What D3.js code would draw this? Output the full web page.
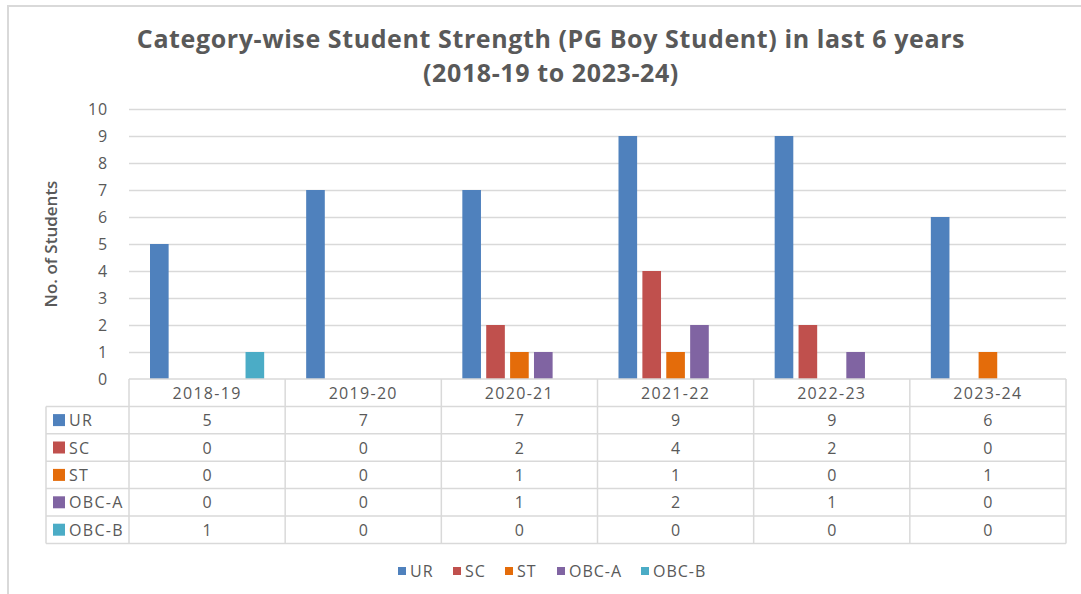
<!DOCTYPE html>
<html>
<head>
<meta charset="utf-8">
<script src="https://cdn.jsdelivr.net/npm/d3@7"></script>
<style>
html,body{margin:0;padding:0;background:#fff;}
svg{display:block;}
text{font-family:"Open Sans","Liberation Sans",sans-serif;fill:#595959;}
</style>
</head>
<body>
<svg id="chart" width="1081" height="594"></svg>
<script>
const years = ["2018-19","2019-20","2020-21","2021-22","2022-23","2023-24"];
const seriesNames = ["UR","SC","ST","OBC-A","OBC-B"];
const UR    = [5,7,7,9,9,6];
const SC    = [0,0,2,4,2,0];
const ST    = [0,0,1,1,0,1];
const OBC_A = [0,0,1,2,1,0];
const OBC_B = [1,0,0,0,0,0];
const yTicks = [0,1,2,3,4,5,6,7,8,9,10];
const colors = ["#4F81BD","#C0504D","#E46C0A","#8064A2","#4BACC6"];
const seriesValues = [UR,SC,ST,OBC_A,OBC_B];

const svg = d3.select("#chart");
const W = 1081, H = 594;
const plot = {left:129, right:1066, top:109, bottom:379};

// frame
svg.append("rect").attr("x",8).attr("y",6).attr("width",W+10).attr("height",H+10)
  .attr("fill","none").attr("stroke","#D9D9D9").attr("stroke-width",2);

// title
const title = svg.append("text").attr("text-anchor","middle")
  .attr("font-size",25).attr("font-weight","bold").attr("letter-spacing",0.6);
title.append("tspan").attr("x",551).attr("y",48).text("Category-wise Student Strength (PG Boy Student) in last 6 years");
title.append("tspan").attr("x",551).attr("y",82).text("(2018-19 to 2023-24)");

const x0 = d3.scaleBand().domain(years).range([plot.left, plot.right]).padding(0);
const x1 = d3.scaleBand().domain(seriesNames)
  .range([21, x0.bandwidth()-21]).paddingInner(0.22).paddingOuter(0);
const y = d3.scaleLinear().domain([0,10]).range([plot.bottom, plot.top]);

// gridlines
svg.append("g").selectAll("line").data(yTicks.filter(d=>d>0)).join("line")
  .attr("x1",plot.left).attr("x2",plot.right)
  .attr("y1",d=>y(d)+0.5).attr("y2",d=>y(d)+0.5)
  .attr("stroke","#D9D9D9").attr("stroke-width",1.5);

// y axis labels
const yAxis = d3.axisLeft(y).tickValues(yTicks).tickSize(0).tickPadding(0);
const gy = svg.append("g").attr("transform",`translate(${plot.left-21},0)`).call(yAxis);
gy.select(".domain").remove();
gy.selectAll("text").attr("font-size",16).attr("fill","#595959").attr("letter-spacing",0.8)
  .style("font-family",'"Open Sans","Liberation Sans",sans-serif');

// y axis title
svg.append("text").attr("transform","translate(57,244) rotate(-90)")
  .attr("text-anchor","middle").attr("font-size",17).attr("font-weight",600)
  .text("No. of Students");

// bars
const groups = svg.append("g").selectAll("g").data(years).join("g")
  .attr("transform",d=>`translate(${x0(d)},0)`);
groups.selectAll("rect").data((d,i)=>seriesNames.map((s,j)=>({s, v:seriesValues[j][i], c:colors[j]})))
  .join("rect")
  .attr("x",d=>x1(d.s)).attr("width",x1.bandwidth())
  .attr("y",d=>y(d.v)).attr("height",d=>y(0)-y(d.v))
  .attr("fill",d=>d.c);

// data table
const rowH = 27.4;
const tableTop = plot.bottom;
const tableLeft = 46;
const tg = svg.append("g");
const lineColor = "#D9D9D9";
const FS = 16, LS = 1.3;
// header row
years.forEach((yr)=>{
  tg.append("text").attr("x",x0(yr)+x0.bandwidth()/2).attr("y",tableTop+rowH/2+6)
    .attr("text-anchor","middle").attr("font-size",FS).attr("letter-spacing",LS).text(yr);
});
seriesNames.forEach((s,j)=>{
  const ry = tableTop + rowH*(j+1);
  tg.append("rect").attr("x",53).attr("y",ry+rowH/2-6).attr("width",12).attr("height",12).attr("fill",colors[j]);
  tg.append("text").attr("x",69).attr("y",ry+rowH/2+6).attr("font-size",FS).attr("letter-spacing",LS).text(s);
  years.forEach((yr,i)=>{
    tg.append("text").attr("x",x0(yr)+x0.bandwidth()/2).attr("y",ry+rowH/2+6)
      .attr("text-anchor","middle").attr("font-size",FS).text(seriesValues[j][i]);
  });
});
// horizontal lines
const hl = [];
for(let k=0;k<=6;k++) hl.push(k);
tg.selectAll("line.h").data(hl).join("line").attr("class","h")
  .attr("x1",d=>d===0?plot.left:tableLeft).attr("x2",plot.right)
  .attr("y1",d=>tableTop+rowH*d).attr("y2",d=>tableTop+rowH*d)
  .attr("stroke",lineColor).attr("stroke-width",1.5);
// vertical lines
const vx = years.map(yr=>x0(yr)).concat([plot.right]);
tg.selectAll("line.v").data(vx).join("line").attr("class","v")
  .attr("x1",d=>d).attr("x2",d=>d)
  .attr("y1",tableTop).attr("y2",tableTop+rowH*6)
  .attr("stroke",lineColor).attr("stroke-width",1.5);
tg.append("line").attr("x1",tableLeft).attr("x2",tableLeft)
  .attr("y1",tableTop+rowH).attr("y2",tableTop+rowH*6)
  .attr("stroke",lineColor).attr("stroke-width",1.5);

// bottom legend
const legendX = [398,453,505,557,641];
const lg = svg.append("g");
seriesNames.forEach((s,j)=>{
  lg.append("rect").attr("x",legendX[j]).attr("y",567).attr("width",8).attr("height",8).attr("fill",colors[j]);
  lg.append("text").attr("x",legendX[j]+12).attr("y",577).attr("font-size",16).attr("letter-spacing",1).text(s);
});
</script>
</body>
</html>
